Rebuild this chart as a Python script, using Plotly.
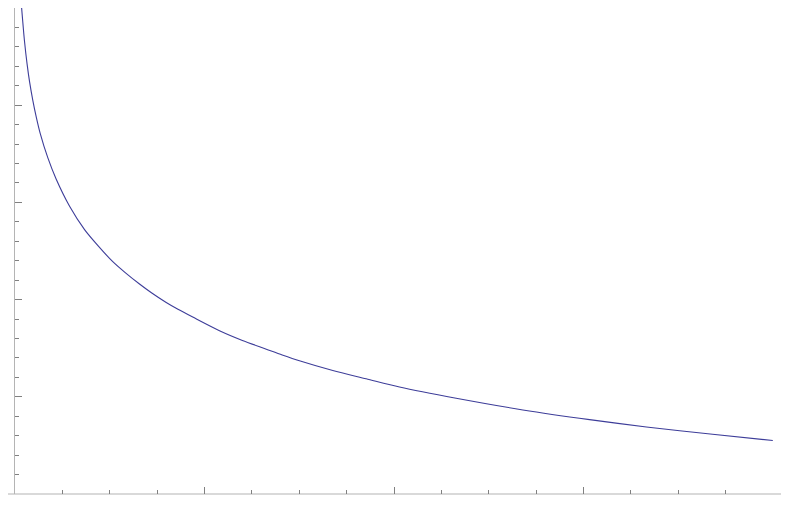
import plotly.graph_objects as go

# Puntos (unidades de los ejes)
x_vals = [0.035, 0.050, 0.064, 0.077, 0.094, 0.112, 0.133, 0.173, 0.217, 0.288,
          0.367, 0.44, 0.516, 0.58, 0.657, 0.72, 0.798, 0.86, 0.938, 1.079,
          1.2, 1.326, 1.41, 1.501, 1.677, 1.853, 2.029, 2.328, 2.680, 3.032,
          3.332, 3.681, 3.999]
y_vals = [5.00, 4.66, 4.42, 4.24, 4.05, 3.88, 3.71, 3.46, 3.24, 2.96,
          2.72, 2.55, 2.39, 2.28, 2.16, 2.07, 1.97, 1.90, 1.82, 1.68,
          1.58, 1.49, 1.43, 1.37, 1.27, 1.185, 1.10, 0.985, 0.865, 0.765,
          0.69, 0.615, 0.55]

x_range = [0, 4]
y_range = [0, 5]

axis_col = '#b4b4b4'
tick_col = '#808080'

fig = go.Figure()

fig.add_trace(go.Scatter(
    x=x_vals,
    y=y_vals,
    mode='lines',
    line=dict(color='#3d3d99', width=1.1, shape='spline', smoothing=0.8),
    showlegend=False,
    hoverinfo='skip'
))

# Eje horizontal a todo el ancho, como en el original
fig.add_shape(type='line', xref='paper', yref='paper',
              x0=-7 / 758, x1=790 / 758, y0=0, y1=0,
              line=dict(color=axis_col, width=1.2), layer='below')

# la página tiene 8 px de margen, se compensa en los márgenes
fig.update_layout(
    width=789,
    height=516,
    margin=dict(l=7, r=24, t=0, b=30),
    paper_bgcolor='white',
    plot_bgcolor='white',
    xaxis=dict(
        range=x_range,
        showgrid=False,
        zeroline=False,
        showline=False,
        showticklabels=False,
        ticks='inside',
        ticklen=7,
        tickwidth=1,
        tickcolor=tick_col,
        dtick=1,
        tick0=0,
        minor=dict(ticks='inside', ticklen=4, tickcolor=tick_col, dtick=0.25, showgrid=False)
    ),
    yaxis=dict(
        range=y_range,
        showgrid=False,
        zeroline=False,
        showline=True,
        linecolor=axis_col,
        linewidth=1.2,
        showticklabels=False,
        ticks='inside',
        ticklen=7,
        tickwidth=1,
        tickcolor=tick_col,
        dtick=1,
        tick0=0,
        minor=dict(ticks='inside', ticklen=4, tickcolor=tick_col, dtick=0.2, showgrid=False)
    )
)

fig.write_html("out.html")
